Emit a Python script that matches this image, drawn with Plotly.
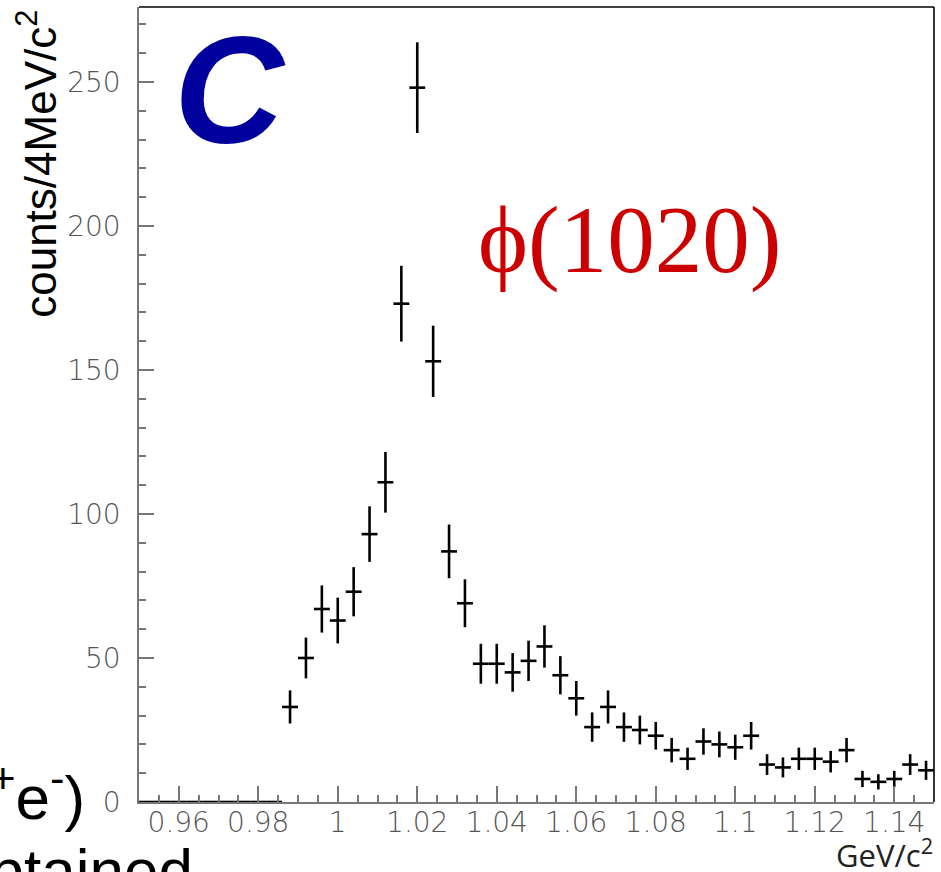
import numpy as np
import plotly.graph_objects as go

# 4 MeV/c^2 bins of the K+K- invariant mass, 0.95 - 1.15 GeV/c^2 (bin centres)
mass_centers = [
    0.952, 0.956, 0.960, 0.964, 0.968, 0.972, 0.976, 0.980, 0.984, 0.988,
    0.992, 0.996, 1.000, 1.004, 1.008, 1.012, 1.016, 1.020, 1.024, 1.028,
    1.032, 1.036, 1.040, 1.044, 1.048, 1.052, 1.056, 1.060, 1.064, 1.068,
    1.072, 1.076, 1.080, 1.084, 1.088, 1.092, 1.096, 1.100, 1.104, 1.108,
    1.112, 1.116, 1.120, 1.124, 1.128, 1.132, 1.136, 1.140, 1.144, 1.148,
]

# entries per bin
counts = [
    0, 0, 0, 0, 0, 0, 0, 0, 0, 33,
    50, 67, 63, 73, 93, 111, 173, 248, 153, 87,
    69, 48, 48, 45, 49, 54, 44, 36, 26, 33,
    26, 25, 23, 18, 15, 21, 20, 19, 23, 13,
    12, 15, 15, 14, 18, 8, 7, 8, 13, 11,
]

# Poisson uncertainties and half bin width
count_errors = np.sqrt(np.array(counts, dtype=float))
half_bin = 0.002

x_tick_vals = [0.96, 0.98, 1.00, 1.02, 1.04, 1.06, 1.08, 1.10, 1.12, 1.14]
x_tick_text = ["0.96", "0.98", "1", "1.02", "1.04", "1.06", "1.08", "1.1", "1.12", "1.14"]
y_tick_vals = [0, 50, 100, 150, 200, 250]
y_tick_text = ["0", "50", "100", "150", "200", "250"]

axis_grey = "#777777"
label_grey = "#555555"

fig = go.Figure()
fig.add_trace(go.Scatter(
    x=mass_centers,
    y=counts,
    mode="markers",
    marker=dict(size=1, color="rgba(0,0,0,0)"),
    error_x=dict(type="constant", value=half_bin, width=0, thickness=2.6, color="black"),
    error_y=dict(type="data", array=count_errors, width=0, thickness=2.6, color="black"),
    cliponaxis=False,
    showlegend=False,
    hoverinfo="skip",
))

tick_font = dict(family="DejaVu Sans", size=28, color=label_grey, weight=200)

fig.update_layout(
    width=941,
    height=872,
    margin=dict(l=139, r=7, t=7, b=70),
    paper_bgcolor="white",
    plot_bgcolor="white",
    xaxis=dict(
        range=[0.95, 1.15],
        tickmode="array",
        tickvals=x_tick_vals,
        ticktext=x_tick_text,
        ticks="inside",
        ticklen=16,
        tickwidth=1.5,
        tickcolor=axis_grey,
        showline=True,
        linecolor=axis_grey,
        linewidth=1.6,
        showgrid=False,
        zeroline=False,
        tickfont=tick_font,
        ticklabelstandoff=-5,
        minor=dict(tick0=0.95, dtick=0.005, ticks="inside", ticklen=7,
                   tickwidth=1.5, tickcolor=axis_grey, showgrid=False),
    ),
    yaxis=dict(
        range=[0, 276],
        tickmode="array",
        tickvals=y_tick_vals,
        ticktext=y_tick_text,
        ticks="inside",
        ticklen=15,
        tickwidth=1.5,
        tickcolor=axis_grey,
        showline=True,
        linecolor=axis_grey,
        linewidth=1.6,
        showgrid=False,
        zeroline=False,
        tickfont=tick_font,
        ticklabelstandoff=11,
        minor=dict(tick0=0, dtick=10, ticks="inside", ticklen=7,
                   tickwidth=1.5, tickcolor=axis_grey, showgrid=False),
    ),
    shapes=[
        dict(type="line", xref="paper", yref="paper", x0=0, x1=1, y0=1, y1=1,
             line=dict(color="black", width=1.6)),
        dict(type="line", xref="paper", yref="paper", x0=1, x1=1, y0=0, y1=1,
             line=dict(color="black", width=1.6)),
    ],
    annotations=[
        # panel letter
        dict(text="C", xref="paper", yref="paper", x=0.114, y=0.896,
             xanchor="center", yanchor="middle", showarrow=False,
             font=dict(family="Liberation Sans", size=152, color="#00009c",
                       weight="bold", style="italic")),
        # resonance label
        dict(text="\u03d5(1020)", xref="paper", yref="paper", x=0.6164, y=0.7069,
             xanchor="center", yanchor="middle", showarrow=False,
             font=dict(family="Liberation Serif", size=95, color="#cc0000")),
        # y axis title
        dict(text="counts/4MeV/c<sup>2</sup>", xref="paper", yref="paper",
             x=-0.1283, y=0.999, xanchor="center", yanchor="top", textangle=-90,
             showarrow=False,
             font=dict(family="Liberation Sans", size=44, color="black")),
        # x axis title
        dict(text="GeV/c<sup>2</sup>", xref="paper", yref="paper",
             x=1.0013, y=-0.0654, xanchor="right", yanchor="middle",
             showarrow=False,
             font=dict(family="Open Sans", size=31, color="#222222")),
        # surrounding slide text
        dict(text="(e<sup>+</sup>e<sup>-</sup>)", xref="paper", yref="paper",
             x=-0.0654, y=0.0113, xanchor="right", yanchor="middle",
             showarrow=False,
             font=dict(family="Liberation Sans", size=62, color="black")),
        dict(text="obtained", xref="paper", yref="paper",
             x=0.0704, y=-0.0403, xanchor="right", yanchor="top",
             showarrow=False,
             font=dict(family="Liberation Sans", size=62, color="black")),
    ],
)

fig.write_html("out.html")
